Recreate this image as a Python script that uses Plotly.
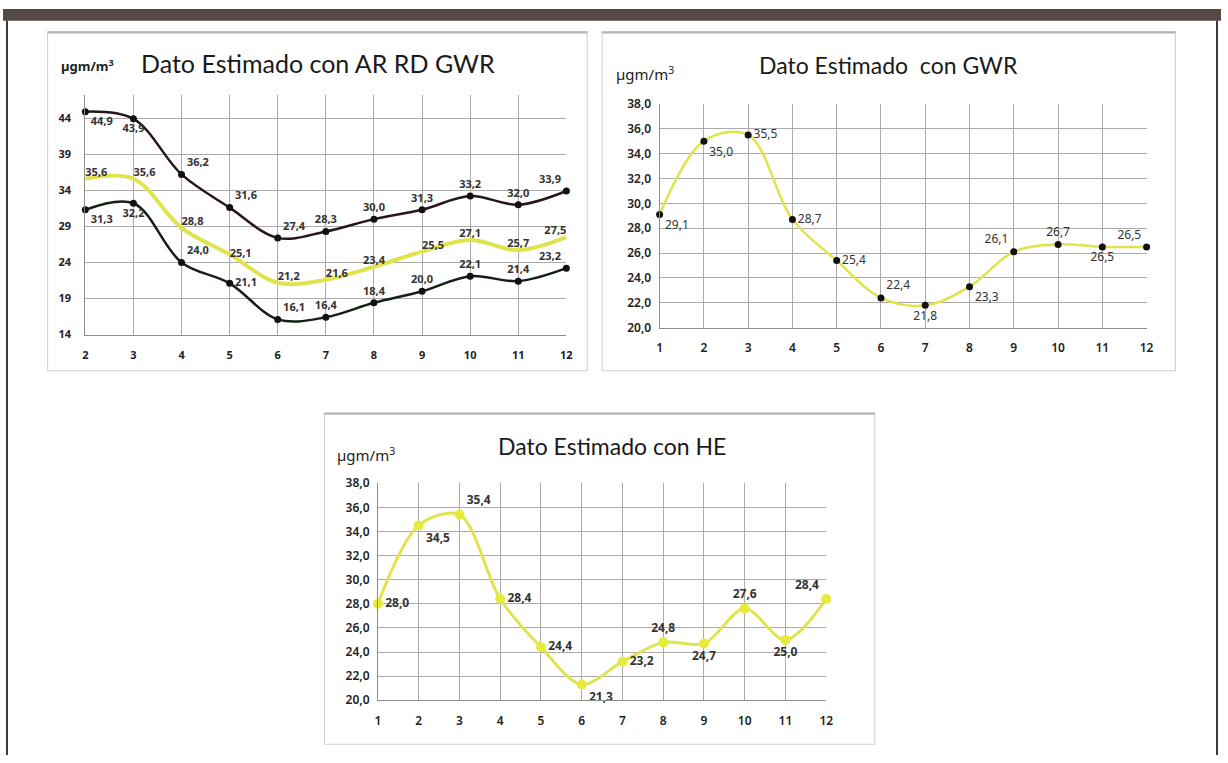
import plotly.graph_objects as go

# ---------------- data ----------------
months_a = [2, 3, 4, 5, 6, 7, 8, 9, 10, 11, 12]
ar_upper = [44.9, 43.9, 36.2, 31.6, 27.4, 28.3, 30.0, 31.3, 33.2, 32.0, 33.9]
ar_mid = [35.6, 35.6, 28.8, 25.1, 21.2, 21.6, 23.4, 25.5, 27.1, 25.7, 27.5]
ar_lower = [31.3, 32.2, 24.0, 21.1, 16.1, 16.4, 18.4, 20.0, 22.1, 21.4, 23.2]

months_b = [1, 2, 3, 4, 5, 6, 7, 8, 9, 10, 11, 12]
gwr_vals = [29.1, 35.0, 35.5, 28.7, 25.4, 22.4, 21.8, 23.3, 26.1, 26.7, 26.5, 26.5]
he_vals = [28.0, 34.5, 35.4, 28.4, 24.4, 21.3, 23.2, 24.8, 24.7, 27.6, 25.0, 28.4]

titles = ["Dato Estimado con AR RD GWR", "Dato Estimado  con GWR", "Dato Estimado con HE"]
unit_label = "µgm/m<sup>3</sup>"

# ---------------- layout helpers ----------------
W, H = 1228, 763


def px_x(x):
    return x / W


def px_y(y):
    return 1 - y / H


YELLOW = "#e0e44c"
DARK1 = "#2a1616"
DARK2 = "#142014"
GRID = "#ababab"
TXT = "#333333"

pos_upper = ['bottom right', 'bottom center', 'top right', 'top right', 'top right', 'top center',
             'top center', 'top center', 'top center', 'top center', 'top left']
pos_lower = ['bottom right', 'bottom center', 'top right', 'middle right', 'top right', 'top center',
             'top center', 'top center', 'top center', 'top center', 'top left']
pos_mid = ['top right', 'top right', 'top right', 'middle right', 'top right', 'top right',
           'top center', 'top right', 'top center', 'top center', 'top left']
pos_gwr = ['bottom right', 'bottom right', 'middle right', 'middle right', 'middle right', 'top right',
           'bottom center', 'bottom right', 'top left', 'top center', 'bottom center', 'top left']
pos_he = ['middle right', 'bottom right', 'top right', 'middle right', 'middle right', 'bottom right',
          'middle right', 'top center', 'bottom center', 'top center', 'bottom center', 'top left']

fig = go.Figure()

lab1 = dict(family="Noto Sans", size=11, color=TXT, weight="bold")

# Panel 1
fig.add_trace(go.Scatter(x=months_a, y=ar_mid, mode="lines+text", line=dict(color=YELLOW, width=4, shape="spline"),
                         texttemplate="%{y:.1f}", textposition=pos_mid, textfont=lab1,
                         xaxis="x", yaxis="y", cliponaxis=False, showlegend=False))
fig.add_trace(go.Scatter(x=months_a, y=ar_upper, mode="lines+markers+text",
                         line=dict(color=DARK1, width=2.5, shape="spline"),
                         marker=dict(color="#111111", size=7),
                         texttemplate="%{y:.1f}", textposition=pos_upper, textfont=lab1,
                         xaxis="x", yaxis="y", cliponaxis=False, showlegend=False))
fig.add_trace(go.Scatter(x=months_a, y=ar_lower, mode="lines+markers+text",
                         line=dict(color=DARK2, width=2.5, shape="spline"),
                         marker=dict(color="#111111", size=7),
                         texttemplate="%{y:.1f}", textposition=pos_lower, textfont=lab1,
                         xaxis="x", yaxis="y", cliponaxis=False, showlegend=False))

# Panel 2
fig.add_trace(go.Scatter(x=months_b, y=gwr_vals, mode="lines+markers+text",
                         line=dict(color=YELLOW, width=2.5, shape="spline"),
                         marker=dict(color="#111111", size=7),
                         texttemplate="%{y:.1f}", textposition=pos_gwr,
                         textfont=dict(family="Noto Sans", size=12, color=TXT),
                         xaxis="x2", yaxis="y2", cliponaxis=False, showlegend=False))

# Panel 3
fig.add_trace(go.Scatter(x=months_b, y=he_vals, mode="lines+markers+text",
                         line=dict(color=YELLOW, width=3, shape="spline", smoothing=0.9),
                         marker=dict(color="#e6ea3a", size=10),
                         texttemplate="%{y:.1f}", textposition=pos_he,
                         textfont=dict(family="Noto Sans", size=12, color=TXT, weight="bold"),
                         xaxis="x3", yaxis="y3", cliponaxis=False, showlegend=False))

axis_common = dict(showgrid=True, gridcolor=GRID, gridwidth=1, zeroline=False, showline=True,
                   linecolor="#8c8c8c", linewidth=1, ticks="", fixedrange=True)

tick_small = dict(family="Noto Sans", size=11, color="#222222", weight="bold")
tick_med = dict(family="Noto Sans", size=12, color="#222222", weight=600)

fig.update_layout(
    width=W, height=H, margin=dict(l=0, r=0, t=0, b=0),
    paper_bgcolor="white", plot_bgcolor="white",
    separators=",.",
    xaxis=dict(axis_common, domain=[px_x(83), px_x(568)], range=[2, 12], tickvals=months_a,
               tickfont=tick_small, anchor="y", ticklabelstandoff=10),
    yaxis=dict(axis_common, domain=[px_y(333), px_y(88)], range=[14, 47.2], tick0=14, dtick=5,
               tickfont=tick_small, anchor="x", ticklabelstandoff=11),
    xaxis2=dict(axis_common, domain=[px_x(662), px_x(1153)], range=[1, 12], tickvals=months_b,
                tickfont=tick_med, anchor="y2", ticklabelstandoff=9),
    yaxis2=dict(axis_common, domain=[px_y(326), px_y(97)], range=[20, 38], tick0=20, dtick=2,
                tickformat=".1f", tickfont=tick_med, anchor="x2", ticklabelstandoff=5),
    xaxis3=dict(axis_common, domain=[px_x(378), px_x(830)], range=[1, 12], tickvals=months_b,
                tickfont=tick_med, anchor="y3", ticklabelstandoff=9),
    yaxis3=dict(axis_common, domain=[px_y(707), px_y(485)], range=[20, 38], tick0=20, dtick=2,
                tickformat=".1f", tickfont=tick_med, anchor="x3", ticklabelstandoff=5),
)

shapes = []
# header bar and side borders
shapes.append(dict(type="rect", xref="paper", yref="paper", x0=0, x1=1, y0=px_y(12), y1=1,
                   fillcolor="#534a46", line=dict(width=0), layer="below"))
shapes.append(dict(type="rect", xref="paper", yref="paper", x0=px_x(3), x1=px_x(5), y0=0, y1=px_y(12),
                   fillcolor="#3a3431", line=dict(width=0), layer="below"))
shapes.append(dict(type="rect", xref="paper", yref="paper", x0=px_x(1223), x1=px_x(1225), y0=0, y1=px_y(12),
                   fillcolor="#3a3431", line=dict(width=0), layer="below"))
# panel frames
for (x0, y0, x1, y1) in [(45, 23, 589, 370), (604, 23, 1182, 370), (324, 413, 879, 752)]:
    shapes.append(dict(type="rect", xref="paper", yref="paper", x0=px_x(x0), x1=px_x(x1),
                       y0=px_y(y1), y1=px_y(y0), line=dict(color="#cdcdcd", width=1),
                       fillcolor="rgba(0,0,0,0)", layer="below"))
    shapes.append(dict(type="line", xref="paper", yref="paper", x0=px_x(x0), x1=px_x(x1),
                       y0=px_y(y0 + 1), y1=px_y(y0 + 1), line=dict(color="#b5b5b5", width=2),
                       layer="below"))
fig.update_layout(shapes=shapes)

ann = [
    dict(text=titles[0], x=px_x(318), y=px_y(55), font=dict(family="Lato", size=25, color="#1a1a1a")),
    dict(text=titles[1], x=px_x(893), y=px_y(57), font=dict(family="Lato", size=23, color="#1a1a1a")),
    dict(text=titles[2], x=px_x(614), y=px_y(447), font=dict(family="Lato", size=23, color="#1a1a1a")),
    dict(text=unit_label, x=px_x(85), y=px_y(58), font=dict(family="Noto Sans", size=13, color="#222", weight="bold")),
    dict(text=unit_label, x=px_x(647), y=px_y(66), font=dict(family="Noto Sans", size=15, color="#222")),
    dict(text=unit_label, x=px_x(366), y=px_y(456), font=dict(family="Noto Sans", size=15, color="#222")),
]
for a in ann:
    a.update(xref="paper", yref="paper", showarrow=False, xanchor="center", yanchor="middle")
fig.update_layout(annotations=ann)

fig.write_html("out.html", config={"displayModeBar": False},
               post_script="document.body.style.margin='0';document.body.style.overflow='hidden';")
